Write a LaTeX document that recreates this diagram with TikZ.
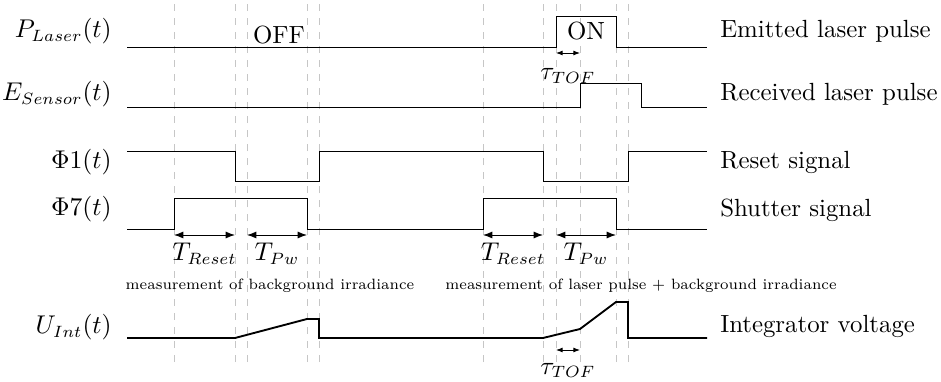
\documentclass[tikz,border=0pt]{standalone}
\usepackage{amssymb,amsmath}
\usepackage{tikz}
\usetikzlibrary{arrows.meta, calc, positioning}

\begin{document}
\begin{tikzpicture}[x=1.5mm, y=1.5mm, font=\fontsize{10.6}{13}\selectfont,
    guide/.style={gray!45, dashed},
    note/.style={font=\scriptsize, scale=0.91},
    dimarrow/.style={{Latex[length=4pt]}-{Latex[length=4pt]}},
    tofarrow/.style={{Latex[length=2.8pt]}-{Latex[length=2.8pt]}}]
    \useasboundingbox (0,0) rectangle (94.1,38.1);

    % Time marks
    \foreach \x in {17.4, 23.5, 24.7, 30.7, 31.9, 48.3, 54.3, 55.6, 58.0, 61.6, 62.8}
        \draw[guide] (\x,1.9) -- (\x,37.9);

    % Signal names (left)
    \node[anchor=east] (nPL) at (12.0,35.0) {$P_{Laser}(t)$};
    \node[anchor=east] (nES) at (12.0,28.7) {$E_{Sensor}(t)$};
    \node[anchor=east] (nP1) at (12.0,21.9) {$\Phi 1(t)$};
    \node[anchor=east] (nP7) at (12.0,17.2) {$\Phi 7(t)$};
    \node[anchor=east] (nUI) at (12.0,5.4) {$U_{Int}(t)$};

    % Signal descriptions (right)
    \node[anchor=west] (dPL) at (71.2,35.0) {Emitted laser pulse};
    \node[anchor=west] (dES) at (71.2,28.7) {Received laser pulse};
    \node[anchor=west] (dP1) at (71.2,21.9) {Reset signal};
    \node[anchor=west] (dP7) at (71.2,17.1) {Shutter signal};
    \node[anchor=west] (dUI) at (71.2,5.5) {Integrator voltage};

    % Laser pulse
    \draw (12.7,33.4) -- (55.6,33.4) -- (55.6,36.5) -- (61.6,36.5) -- (61.6,33.4) -- (70.7,33.4);
    \node[anchor=base] (off) at (27.9,33.7) {OFF};
    \node[anchor=base] (on) at (58.6,34.1) {ON};

    % Received pulse
    \draw (12.7,27.4) -- (58.0,27.4) -- (58.0,29.8) -- (64.1,29.8) -- (64.1,27.4) -- (70.7,27.4);

    % Reset signal
    \draw (12.7,23.0) -- (23.5,23.0) -- (23.5,20.0) -- (31.9,20.0) -- (31.9,23.0)
        -- (54.3,23.0) -- (54.3,20.0) -- (62.8,20.0) -- (62.8,23.0) -- (70.7,23.0);

    % Shutter signal
    \draw (12.7,15.2) -- (17.4,15.2) -- (17.4,18.3) -- (30.7,18.3) -- (30.7,15.2)
        -- (48.3,15.2) -- (48.3,18.3) -- (61.6,18.3) -- (61.6,15.2) -- (70.7,15.2);

    % Durations
    \coordinate (ra) at (17.4,14.6);
    \coordinate (rb) at (23.5,14.6);
    \coordinate (pa) at (24.7,14.6);
    \coordinate (pb) at (30.7,14.6);
    \coordinate (rc) at (48.3,14.6);
    \coordinate (rd) at (54.3,14.6);
    \coordinate (pc) at (55.6,14.6);
    \coordinate (pd) at (61.6,14.6);
    \draw[dimarrow] (ra) -- (rb) node[midway, below] {$T_{Reset}$};
    \draw[dimarrow] (pa) -- (pb) node[midway, below] {$T_{Pw}$};
    \draw[dimarrow] (rc) -- (rd) node[midway, below] {$T_{Reset}$};
    \draw[dimarrow] (pc) -- (pd) node[midway, below] {$T_{Pw}$};

    \node[note] (mbg) at (27.0,9.5) {measurement of background irradiance};
    \node[note] (mlp) at (64.1,9.5) {measurement of laser pulse + background irradiance};

    % Integrator voltage
    \draw[thick] (12.7,4.3) -- (23.5,4.3) -- (30.7,6.2) -- (31.9,6.2) -- (31.9,4.3)
        -- (54.3,4.3) -- (58.0,5.2) -- (61.6,7.9) -- (62.8,7.9) -- (62.8,4.3) -- (70.7,4.3);

    % Time of flight
    \coordinate (ta) at (55.6,32.8);
    \coordinate (tb) at (58.0,32.8);
    \coordinate (tc) at (55.6,3.1);
    \coordinate (td) at (58.0,3.1);
    \draw[tofarrow] (ta) -- (tb) node[midway, below=3pt] {$\tau_{TOF}$};
    \draw[tofarrow] (tc) -- (td) node[midway, below=2pt] {$\tau_{TOF}$};
\end{tikzpicture}
\end{document}
